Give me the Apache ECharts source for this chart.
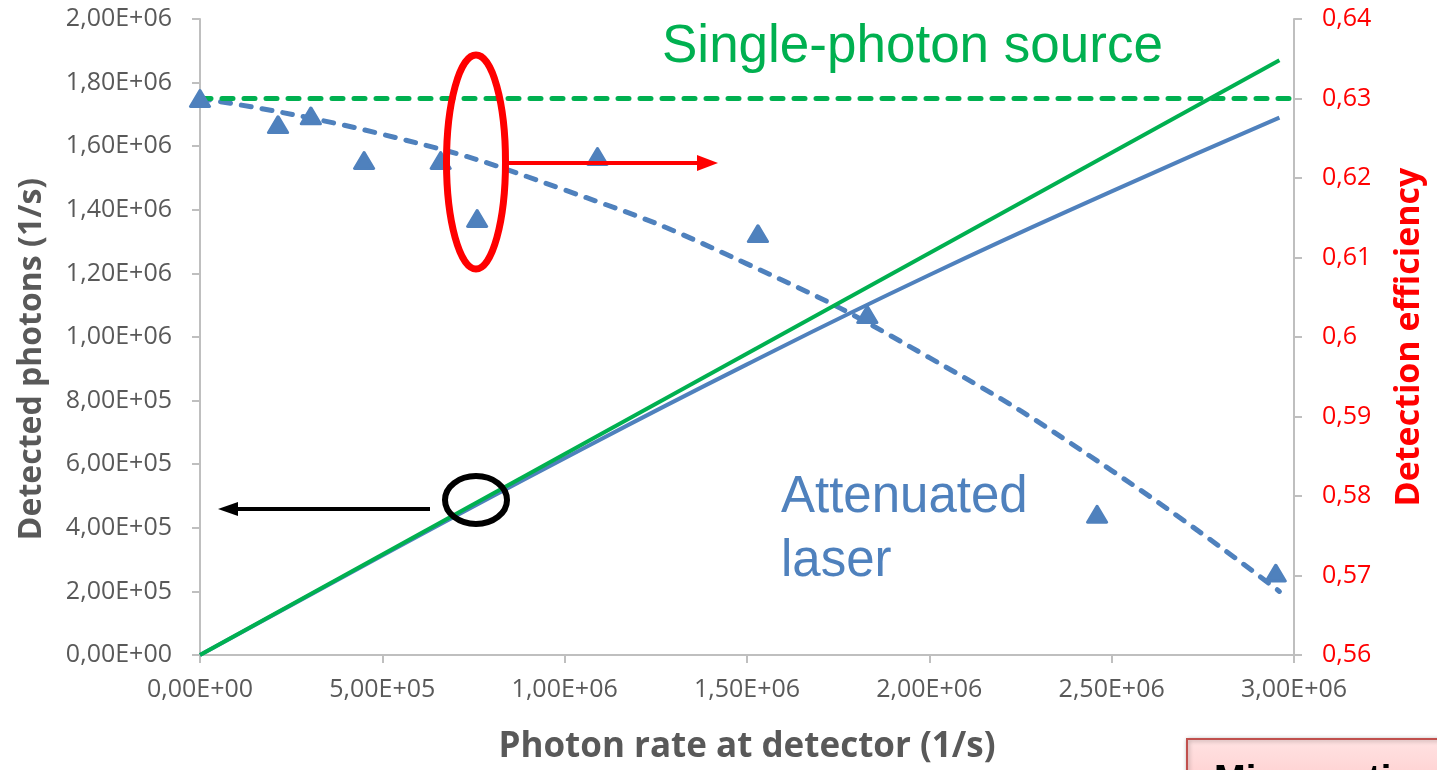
<!DOCTYPE html>
<html>
<head>
<meta charset="utf-8">
<script src="https://cdn.jsdelivr.net/npm/echarts@6/dist/echarts.min.js"></script>
<style>
html,body{margin:0;padding:0;background:#fff;}
#chart{width:1437px;height:770px;}
</style>
</head>
<body>
<div id="chart"></div>
<script>
// Measured efficiency points (triangles)
const rateX = [0, 2.14e5, 3.04e5, 4.5e5, 6.6e5, 7.6e5, 1.09e6, 1.53e6, 1.83e6, 2.46e6, 2.95e6];
const efficiency = [0.630, 0.6267, 0.6278, 0.6222, 0.6222, 0.6149, 0.6227, 0.6130, 0.6028, 0.5777, 0.5703];
// Trend line of efficiency (dashed blue)
const trendX = [0, 5e5, 1e6, 1.5e6, 2e6, 2.5e6, 2.96e6];
const trendEff = [0.630, 0.6255, 0.6185, 0.6092, 0.5974, 0.5832, 0.568];
// Detected photons, attenuated laser (solid blue)
const laserX = [0, 5e5, 1e6, 1.5e6, 2e6, 2.5e6, 2.96e6];
const laserDetected = [0, 3.13e5, 6.19e5, 9.14e5, 1.195e6, 1.458e6, 1.69e6];
// Detected photons, single-photon source (solid green)
const spsX = [0, 2.96e6];
const spsDetected = [0, 1.87e6];
// Single-photon source efficiency (dashed green)
const spsEffX = [0, 3e6];
const spsEff = [0.63, 0.63];

const sciFmt = v => {
  if (v === 0) return '0,00E+00';
  const e = Math.floor(Math.log10(Math.abs(v)) + 1e-9);
  const m = v / Math.pow(10, e);
  return m.toFixed(2).replace('.', ',') + 'E' + (e >= 0 ? '+' : '-') + String(Math.abs(e)).padStart(2, '0');
};
const effFmt = v => String(+v.toFixed(2)).replace('.', ',');
const zip = (a, b) => a.map((x, i) => [x, b[i]]);

const FONT = '"Open Sans", "Liberation Sans", sans-serif';
const GRAY = '#595959';
const AXIS = '#BFBFBF';
const BLUE = '#4F81BD';
const GREEN = '#00B050';

const chart = echarts.init(document.getElementById('chart'), null, {renderer: 'canvas'});
chart.setOption({
  animation: false,
  backgroundColor: '#ffffff',
  grid: {left: 200, right: 143, top: 19, bottom: 113},
  xAxis: {
    type: 'value', min: 0, max: 3e6, interval: 5e5,
    name: 'Photon rate at detector (1/s)', nameLocation: 'middle', nameGap: 75,
    nameTextStyle: {fontFamily: FONT, fontSize: 35, fontWeight: 'bold', color: GRAY},
    axisLine: {show: true, lineStyle: {color: AXIS, width: 2}},
    axisTick: {show: true, length: 8, lineStyle: {color: AXIS, width: 2}},
    axisLabel: {formatter: sciFmt, fontFamily: FONT, fontSize: 25, color: GRAY, margin: 22},
    splitLine: {show: false}
  },
  yAxis: [{
    type: 'value', min: 0, max: 2e6, interval: 2e5, position: 'left',
    name: 'Detected photons (1/s)', nameLocation: 'middle', nameGap: 152, nameRotate: 90,
    nameTextStyle: {fontFamily: FONT, fontSize: 32, fontWeight: 'bold', color: GRAY, padding: [0, 44, 0, 0]},
    axisLine: {show: true, lineStyle: {color: AXIS, width: 2}},
    axisTick: {show: true, length: 8, lineStyle: {color: AXIS, width: 2}},
    axisLabel: {formatter: sciFmt, fontFamily: FONT, fontSize: 25, color: GRAY, margin: 28},
    splitLine: {show: false}
  }, {
    type: 'value', min: 0.56, max: 0.64, interval: 0.01, position: 'right',
    name: 'Detection efficiency', nameLocation: 'middle', nameGap: 98, nameRotate: 90,
    nameTextStyle: {fontFamily: FONT, fontSize: 34, fontWeight: 'bold', color: '#FF0000'},
    axisLine: {show: true, lineStyle: {color: AXIS, width: 2}},
    axisTick: {show: true, length: 8, lineStyle: {color: AXIS, width: 2}},
    axisLabel: {formatter: effFmt, fontFamily: FONT, fontSize: 25, color: '#FF0000', margin: 28},
    splitLine: {show: false}
  }],
  series: [
    {name: 'Laser detected', type: 'line', yAxisIndex: 0, data: zip(laserX, laserDetected), smooth: true,
     showSymbol: false, lineStyle: {color: BLUE, width: 4}, z: 2},
    {name: 'SPS detected', type: 'line', yAxisIndex: 0, data: zip(spsX, spsDetected),
     showSymbol: false, lineStyle: {color: GREEN, width: 4}, z: 3},
    {name: 'Laser efficiency trend', type: 'line', yAxisIndex: 1, data: zip(trendX, trendEff), smooth: true,
     showSymbol: false, lineStyle: {color: BLUE, width: 5, type: [10, 11], cap: 'round'}, z: 2},
    {name: 'SPS efficiency', type: 'line', yAxisIndex: 1, data: zip(spsEffX, spsEff),
     showSymbol: false, lineStyle: {color: GREEN, width: 5, type: [11, 11], cap: 'round'}, z: 3},
    {name: 'Laser efficiency', type: 'scatter', yAxisIndex: 1, data: zip(rateX, efficiency),
     symbol: 'triangle', symbolSize: [19, 16],
     itemStyle: {color: BLUE, borderColor: BLUE, borderWidth: 3, borderJoin: 'round', opacity: 1}, z: 5}
  ],
  graphic: [
    // Labels
    {type: 'text', left: 662, top: 21, z: 10, style: {text: 'Single-photon source', font: '53px "Liberation Sans", Arial, sans-serif', fill: GREEN}},
    {type: 'text', left: 781, top: 466, z: 10, style: {text: 'Attenuated\nlaser', font: '51px "Liberation Sans", Arial, sans-serif', fill: BLUE, lineHeight: 64}},
    // Red ellipse + arrow (pointing to right axis)
    {type: 'ellipse', shape: {cx: 476, cy: 162, rx: 29.5, ry: 107}, z: 10, style: {fill: 'none', stroke: '#FF0000', lineWidth: 7}},
    {type: 'line', shape: {x1: 505, y1: 163, x2: 700, y2: 163}, z: 10, style: {stroke: '#FF0000', lineWidth: 4}},
    {type: 'polygon', shape: {points: [[718, 163], [697, 155], [697, 171]]}, z: 10, style: {fill: '#FF0000'}},
    // Black ellipse + arrow (pointing to left axis)
    {type: 'ellipse', shape: {cx: 476, cy: 500, rx: 31, ry: 24}, z: 10, style: {fill: 'none', stroke: '#000000', lineWidth: 6}},
    {type: 'line', shape: {x1: 430, y1: 509, x2: 236, y2: 509}, z: 10, style: {stroke: '#000000', lineWidth: 4}},
    {type: 'polygon', shape: {points: [[218, 509], [238, 502], [238, 516]]}, z: 10, style: {fill: '#000000'}},
    // Pink callout box, mostly cut off
    {type: 'rect', shape: {x: 1187, y: 739, width: 270, height: 70}, z: 10,
     style: {fill: new echarts.graphic.LinearGradient(0, 0, 0, 1, [{offset: 0, color: '#FFE3E3'}, {offset: 1, color: '#FFC4C4'}]),
             stroke: '#C0504D', lineWidth: 2, shadowBlur: 4, shadowColor: 'rgba(0,0,0,0.3)', shadowOffsetX: 1, shadowOffsetY: 1}},
    {type: 'text', left: 1214, top: 763, z: 11, style: {text: 'Miscounting', font: 'bold 38px "Liberation Sans", Arial, sans-serif', fill: '#000000'}}
  ]
});
</script>
</body>
</html>
